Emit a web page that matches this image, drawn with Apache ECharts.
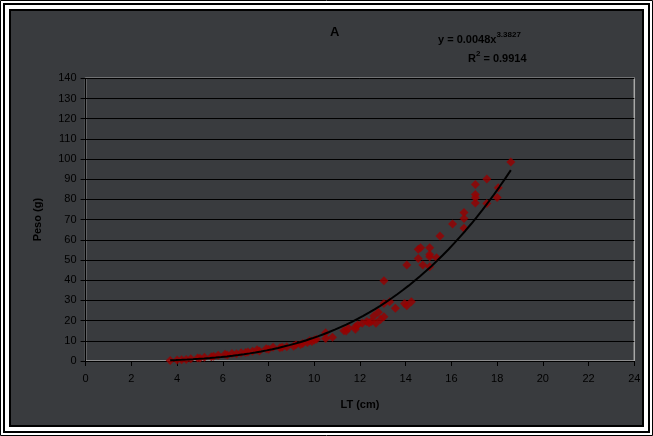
<!DOCTYPE html>
<html>
<head>
<meta charset="utf-8">
<script src="https://cdn.jsdelivr.net/npm/echarts@6/dist/echarts.min.js"></script>
<style>
html,body{margin:0;padding:0;background:#fff;}
#chart{width:653px;height:436px;}
</style>
</head>
<body>
<div id="chart"></div>
<script>
// Observed data: LT (cm) vs Peso (g)
const lengthCm = [3.7,4.0,4.2,4.4,4.6,4.9,5.0,5.2,5.5,5.6,5.8,6.1,6.2,6.4,6.6,6.8,7.0,7.1,7.3,7.5,7.6,7.9,8.0,8.2,8.5,8.6,8.8,9.1,9.2,9.4,9.5,9.7,9.8,9.9,10.0,10.1,10.5,10.5,10.8,11.3,11.4,11.5,11.8,11.8,11.9,12.1,12.3,12.4,12.5,12.6,12.7,12.8,12.9,13.05,13.05,13.05,13.3,13.55,13.95,14.05,14.25,14.05,14.55,14.55,14.65,14.75,15.05,15.05,15.05,15.05,15.35,15.5,16.05,16.55,16.55,16.55,17.05,17.05,17.05,17.05,17.55,17.55,18.0,18.05,18.6];
const weightG = [0.3,0.5,0.6,0.8,1.1,1.5,1.4,1.8,2.1,2.4,2.8,3.3,3.0,3.7,3.6,4.1,4.2,4.5,4.8,5.6,5.0,6.1,5.8,6.8,6.5,6.8,7.0,7.3,8.0,8.2,8.7,9.1,10.0,9.6,10.4,10.8,11.2,14.0,11.7,15.0,14.8,16.2,15.7,17.0,17.8,18.7,19.5,19.0,19.5,22.3,18.7,24.1,20.5,21.9,28.5,39.7,29.3,26.1,28.5,27.4,29.3,47.5,50.8,55.4,56.1,47.5,46.7,51.6,52.8,56.1,51.1,61.9,67.8,65.7,70.6,73.6,78.3,80.8,82.5,87.4,78.0,90.1,81.0,85.8,98.6];
// Power trendline as stated on the chart
const trendA = 0.0048;
const trendB = 3.3827;
const trendRange = [3.7, 18.6];
const xTicks = [0,2,4,6,8,10,12,14,16,18,20,22,24];
const yTicks = [0,10,20,30,40,50,60,70,80,90,100,110,120,130,140];

const points = lengthCm.map((x,i)=>[x, weightG[i]]);
const trend = [];
for (let k=0;k<=60;k++){
  const x = trendRange[0] + (trendRange[1]-trendRange[0])*k/60;
  trend.push([x, trendA*Math.pow(x,trendB)]);
}

const FONT = 'Liberation Sans, Arial, sans-serif';
const chart = echarts.init(document.getElementById('chart'), null, {renderer:'canvas'});
chart.setOption({
  animation:false,
  backgroundColor:'#ffffff',
  graphic:[
    {type:'rect', z:-10, shape:{x:0.5,y:0.5,width:652,height:435}, style:{fill:'#ffffff',stroke:'#000',lineWidth:1}},
    {type:'rect', z:-10, shape:{x:4,y:4,width:645,height:428}, style:{fill:'#ffffff',stroke:'#000',lineWidth:2}},
    {type:'rect', z:-9, shape:{x:10,y:10,width:633,height:416}, style:{fill:'#393b3e',stroke:'#000',lineWidth:2}},
    {type:'rect', z:-8, shape:{x:85.6,y:78.3,width:548.7,height:282.7}, style:{fill:'none',stroke:'#a8a8a8',lineWidth:1.5}},
    {type:'text', left:330, top:26, style:{text:'A', font:'bold 13px '+FONT, fill:'#000'}},
    {type:'text', left:438, top:31, style:{
      text:'{n|y = 0.0048x}{s|3.3827}',
      rich:{n:{font:'bold 11px '+FONT, fill:'#000', verticalAlign:'bottom'}, s:{font:'bold 8px '+FONT, fill:'#000', verticalAlign:'top', padding:[0,0,6,0]}}
    }},
    {type:'text', left:468, top:50, style:{
      text:'{n|R}{s|2}{n| = 0.9914}',
      rich:{n:{font:'bold 11px '+FONT, fill:'#000', verticalAlign:'bottom'}, s:{font:'bold 8px '+FONT, fill:'#000', verticalAlign:'top', padding:[0,0,6,0]}}
    }}
  ],
  grid:{left:85.6, right:18.7, top:78.3, bottom:75, containLabel:false},
  xAxis:{
    type:'value', min:0, max:24, interval:2,
    name:'LT (cm)', nameLocation:'middle', nameGap:38,
    nameTextStyle:{fontFamily:FONT, fontWeight:'bold', fontSize:11, color:'#000'},
    axisLine:{lineStyle:{color:'#000', width:1}},
    axisTick:{show:true, inside:false, length:5, lineStyle:{color:'#000'}},
    axisLabel:{fontFamily:FONT, fontSize:11, color:'#000', margin:12},
    splitLine:{show:false}
  },
  yAxis:{
    type:'value', min:0, max:140, interval:10,
    name:'Peso (g)', nameLocation:'middle', nameGap:42, nameRotate:90,
    nameTextStyle:{fontFamily:FONT, fontWeight:'bold', fontSize:11, color:'#000'},
    axisLine:{show:true, lineStyle:{color:'#000', width:1}},
    axisTick:{show:true, inside:false, length:5, lineStyle:{color:'#000'}},
    axisLabel:{fontFamily:FONT, fontSize:11, color:'#000', margin:9},
    splitLine:{show:true, lineStyle:{color:'#000', width:1}}
  },
  series:[
    {type:'scatter', data:points, symbol:'diamond', symbolSize:9,
     itemStyle:{color:'#990000'}, z:3},
    {type:'line', data:trend, showSymbol:false, smooth:false,
     lineStyle:{color:'#000', width:2}, z:4}
  ]
});
</script>
</body>
</html>
